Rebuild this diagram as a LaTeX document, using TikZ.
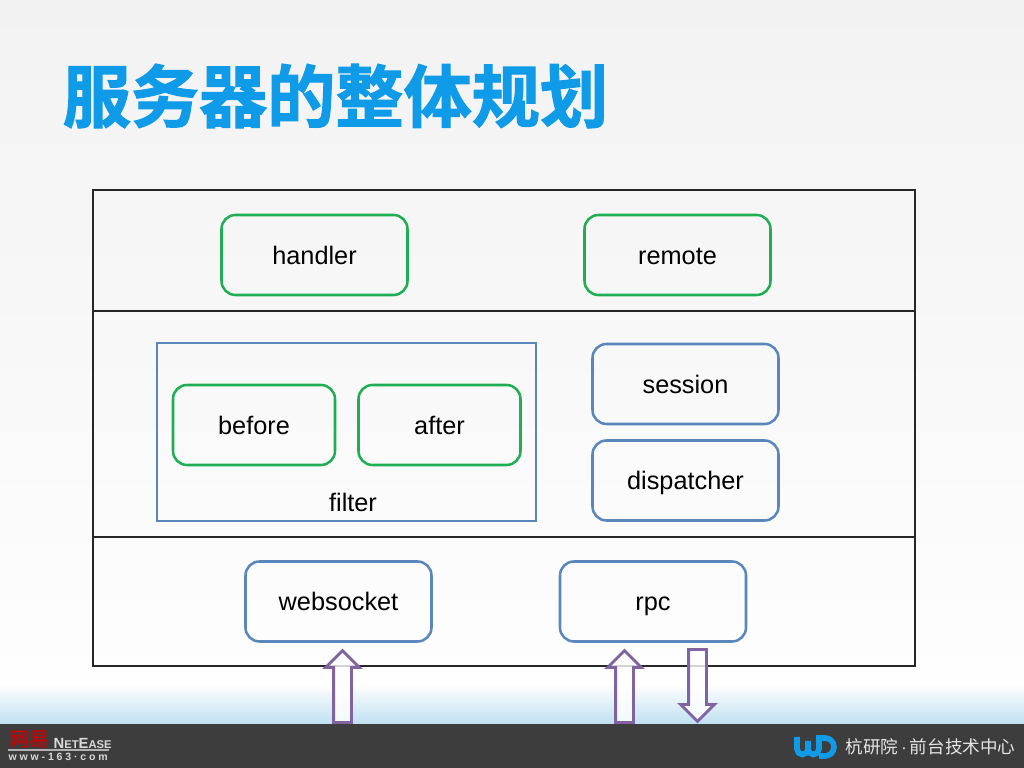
\documentclass[tikz,border=0pt]{standalone}
\usepackage{fontspec}
\setmainfont{Liberation Sans}
\newfontfamily\cjktitle[FakeBold=1.6]{Noto Sans CJK SC Bold}
\newfontfamily\cjkmid{Noto Sans CJK SC}
\newfontfamily\cjkbold[FakeBold=1]{Noto Sans CJK SC}
\usepackage{tikz}
\usetikzlibrary{shapes.arrows}
\definecolor{titleblue}{HTML}{0F9BE8}
\definecolor{boxgreen}{HTML}{1FAE54}
\definecolor{boxblue}{HTML}{5B86BC}
\definecolor{arrowpurple}{HTML}{8064A2}
\definecolor{footdark}{HTML}{3D3D3D}
\definecolor{bgtop}{HTML}{F2F2F2}
\definecolor{bgmid}{HTML}{FEFEFE}
\definecolor{bgblue}{HTML}{BFE0F1}
\tikzset{
  boxtext/.style={font=\fontsize{7.2}{8}\selectfont, text height=2.2mm, text depth=0.3mm, inner ysep=0pt},
  greenbox/.style={boxtext, draw=boxgreen, line width=0.72pt, rounded corners=0.14cm, minimum width=1.86cm, minimum height=0.8cm},
  bluebox/.style={boxtext, draw=boxblue, line width=0.72pt, rounded corners=0.14cm, minimum width=1.86cm, minimum height=0.8cm},
  flowarrow/.style={draw=arrowpurple, fill=white, fill opacity=0.8, draw opacity=1, line width=0.8pt, single arrow, single arrow head extend=0.08cm, minimum height=0.72cm, minimum width=0.31cm, inner sep=0pt, text height=0.15cm, text depth=0pt, text width=0pt, single arrow tip angle=90},
  layerline/.style={black!85, line width=0.38pt},
  logoline/.style={titleblue, line width=1.6pt}
}
\begin{document}
\begin{tikzpicture}
\useasboundingbox (0,0) rectangle (10.24,7.68);
%Background
\shade[top color=bgtop, bottom color=bgmid] (0,0.83) rectangle (10.24,7.68);
\shade[top color=bgmid, bottom color=bgblue] (0,0.44) rectangle (10.24,0.83);
\fill[footdark] (0,0) rectangle (10.24,0.44);
%Title
\node[anchor=west, text=titleblue, inner sep=0pt] (title) at (0.62,6.72) {\cjktitle\fontsize{19.4}{22}\selectfont 服务器的整体规划};
%Layers
\draw[layerline] (0.93,1.02) rectangle (9.15,5.78);
\coordinate (upleft) at (0.93,4.57);
\coordinate (upright) at (9.15,4.57);
\coordinate (lowleft) at (0.93,2.31);
\coordinate (lowright) at (9.15,2.31);
\draw[layerline] (upleft) -- (upright);
\draw[layerline] (lowleft) -- (lowright);
%Top layer
\node[greenbox] (handler) at (3.145,5.13) {handler};
\node[greenbox] (remote) at (6.775,5.13) {remote};
%Filter
\draw[boxblue, line width=0.8pt] (1.57,2.47) rectangle (5.36,4.25);
\node[boxtext] (filter) at (3.53,2.66) {filter};
\node[greenbox, minimum width=1.62cm] (before) at (2.54,3.43) {before};
\node[greenbox, minimum width=1.62cm] (after) at (4.395,3.43) {after};
\node[bluebox] (session) at (6.855,3.84) {session};
\node[bluebox] (dispatcher) at (6.855,2.875) {dispatcher};
%Bottom layer
\node[bluebox] (websocket) at (3.385,1.665) {websocket};
\node[bluebox] (rpc) at (6.53,1.665) {rpc};
\node[flowarrow, rotate=90] (wsin) at (3.425,0.77) {};
\node[flowarrow, rotate=90] (rpcin) at (6.245,0.77) {};
\node[flowarrow, rotate=-90] (rpcout) at (6.975,0.87) {};
%Footer
\node[text=red!80!black, inner sep=0pt, font=\cjkbold\fontsize{5.6}{6}\selectfont] (netcn) at (0.29,0.29) {网易};
\node[text=white!85!black, inner sep=0pt, anchor=west, font=\bfseries\fontsize{4.2}{5}\selectfont] (netname) at (0.53,0.245) {N\fontsize{3.2}{4}\selectfont ET\fontsize{4.2}{5}\selectfont E\fontsize{3.2}{4}\selectfont ASE};
\node[text=white!85!black, inner sep=0pt, anchor=west, font=\bfseries\fontsize{3}{3}\selectfont] (neturl) at (0.08,0.115) {w\hspace{0.8pt}w\hspace{0.8pt}w\hspace{0.8pt}-\hspace{0.8pt}1\hspace{0.8pt}6\hspace{0.8pt}3\hspace{0.8pt}·\hspace{0.8pt}c\hspace{0.8pt}o\hspace{0.8pt}m};
\coordinate (ruleleft) at (0.08,0.18);
\coordinate (ruleright) at (1.09,0.18);
\draw[white!70!black, line width=0.3pt] (ruleleft) -- (ruleright);
\draw[logoline] (7.97,0.31) -- (7.97,0.19) arc[start angle=180, end angle=360, radius=0.055] -- (8.08,0.27);
\draw[logoline] (8.08,0.19) arc[start angle=180, end angle=360, radius=0.055] -- (8.19,0.30) -- (8.25,0.30) arc[start angle=90, end angle=-90, radius=0.09] -- (8.19,0.12);
\node[text=white!90!black, inner sep=0pt, anchor=east, font=\cjkmid\fontsize{5}{6}\selectfont] (dept) at (10.16,0.21) {杭研院\,{\rmfamily ·}\,前台技术中心};
\end{tikzpicture}
\end{document}
